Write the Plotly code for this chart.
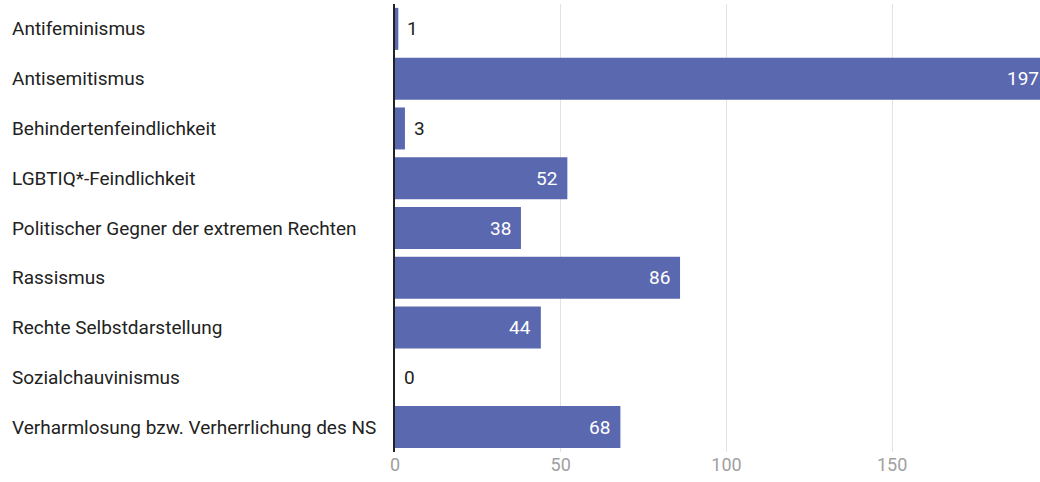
import plotly.graph_objects as go

categories = [
    "Antifeminismus",
    "Antisemitismus",
    "Behindertenfeindlichkeit",
    "LGBTIQ*-Feindlichkeit",
    "Politischer Gegner der extremen Rechten",
    "Rassismus",
    "Rechte Selbstdarstellung",
    "Sozialchauvinismus",
    "Verharmlosung bzw. Verherrlichung des NS",
]
values = [1, 197, 3, 52, 38, 86, 44, 0, 68]
tick_vals = [0, 50, 100, 150]
x_max = 194.6

BAR = "#5a68b0"
FONT = "Roboto"

fig = go.Figure(
    go.Bar(
        y=categories,
        x=values,
        orientation="h",
        marker=dict(color=BAR, line=dict(width=0)),
        cliponaxis=True,
        hoverinfo="x+y",
    )
)

for c in categories:
    fig.add_annotation(
        x=0, xref="paper", xshift=-385, y=c, yref="y",
        text=c, showarrow=False, xanchor="left",
        font=dict(family=FONT, size=19, color="#222222"),
    )

# value labels: inside (white) for long bars, outside (dark) for short ones
for c, v in zip(categories, values):
    if v >= 20:
        fig.add_annotation(
            x=min(v, x_max), xref="x", xshift=-8 if v <= x_max else 1,
            y=c, yref="y", text=str(v), showarrow=False, xanchor="right",
            font=dict(family=FONT, size=19, color="white"),
        )
    else:
        fig.add_annotation(
            x=v, xref="x", xshift=7, y=c, yref="y", text=str(v),
            showarrow=False, xanchor="left",
            font=dict(family=FONT, size=19, color="#222222"),
        )

fig.update_layout(
    width=1040, height=482,
    margin=dict(l=395, r=0, t=4, b=30, autoexpand=False),
    paper_bgcolor="white", plot_bgcolor="white",
    bargap=0.156,
    showlegend=False,
    xaxis=dict(
        range=[0, x_max], tickvals=tick_vals,
        showgrid=True, gridcolor="#e3e3e3", gridwidth=1,
        zeroline=False, showline=False, automargin=False,
        tickfont=dict(family=FONT, size=18, color="#a0a0a0"),
        ticks="", ticklen=0,
    ),
    yaxis=dict(
        range=[len(categories) - 0.5, -0.5], showticklabels=False, automargin=False,
        showline=True, linecolor="#222222", linewidth=2,
        showgrid=False, ticks="",
    ),
)

fig.write_html(
    "out.html",
    config={"displayModeBar": False},
    post_script="document.body.style.margin='0';document.body.style.overflow='hidden';",
)
